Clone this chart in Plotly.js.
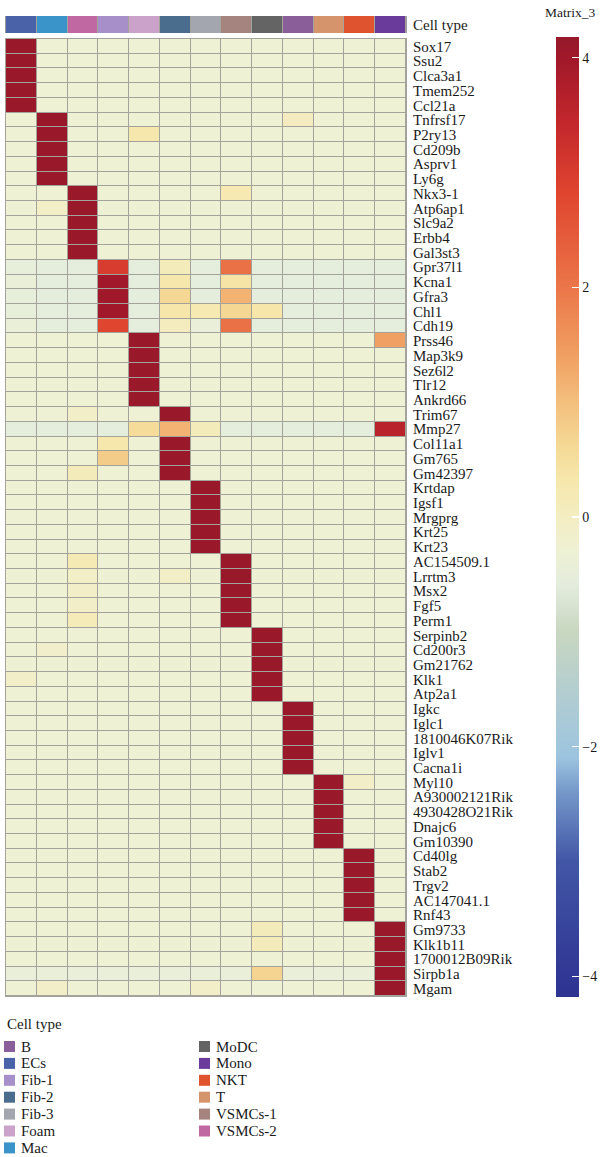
<!DOCTYPE html>
<html>
<head>
<meta charset="utf-8">
<script src="https://cdn.plot.ly/plotly-3.0.1.min.js"></script>
<style>
  html, body { margin: 0; padding: 0; background: #ffffff; }
  #chart { width: 600px; height: 1157px; }
</style>
</head>
<body>
<div id="chart"></div>
<script>
// Cell types in column order
const cellTypes = ['ECs', 'Mac', 'VSMCs-2', 'Fib-1', 'Foam', 'Fib-2', 'Fib-3',
                   'VSMCs-1', 'MoDC', 'B', 'T', 'NKT', 'Mono'];

// Marker genes, top to bottom
const genes = [
  'Sox17', 'Ssu2', 'Clca3a1', 'Tmem252', 'Ccl21a',
  'Tnfrsf17', 'P2ry13', 'Cd209b', 'Asprv1', 'Ly6g',
  'Nkx3-1', 'Atp6ap1', 'Slc9a2', 'Erbb4', 'Gal3st3',
  'Gpr37l1', 'Kcna1', 'Gfra3', 'Chl1', 'Cdh19',
  'Prss46', 'Map3k9', 'Sez6l2', 'Tlr12', 'Ankrd66',
  'Trim67', 'Mmp27', 'Col11a1', 'Gm765', 'Gm42397',
  'Krtdap', 'Igsf1', 'Mrgprg', 'Krt25', 'Krt23',
  'AC154509.1', 'Lrrtm3', 'Msx2', 'Fgf5', 'Perm1',
  'Serpinb2', 'Cd200r3', 'Gm21762', 'Klk1', 'Atp2a1',
  'Igkc', 'Iglc1', '1810046K07Rik', 'Iglv1', 'Cacna1i',
  'Myl10', 'A930002121Rik', '4930428O21Rik', 'Dnajc6', 'Gm10390',
  'Cd40lg', 'Stab2', 'Trgv2', 'AC147041.1', 'Rnf43',
  'Gm9733', 'Klk1b11', '1700012B09Rik', 'Sirpb1a', 'Mgam'
];

// Scaled expression (Matrix_3), one row per gene, columns follow cellTypes
const expression = [
  [ 4.1,-0.3,-0.3,-0.3,-0.3,-0.3,-0.3,-0.3,-0.3,-0.3,-0.3,-0.3,-0.3],
  [ 4.1,-0.3,-0.3,-0.3,-0.3,-0.3,-0.3,-0.3,-0.3,-0.3,-0.3,-0.3,-0.3],
  [ 4.1,-0.3,-0.3,-0.3,-0.3,-0.3,-0.3,-0.3,-0.3,-0.3,-0.3,-0.3,-0.3],
  [ 4.1,-0.3,-0.3,-0.3,-0.3,-0.3,-0.3,-0.3,-0.3,-0.3,-0.3,-0.3,-0.3],
  [ 4.1,-0.3,-0.3,-0.3,-0.3,-0.3,-0.3,-0.3,-0.3,-0.3,-0.3,-0.3,-0.3],
  [-0.3, 4.1,-0.3,-0.3,-0.3,-0.3,-0.3,-0.3,-0.3, 0.05,-0.3,-0.3,-0.3],
  [-0.3, 4.1,-0.3,-0.3, 0.3,-0.3,-0.3,-0.3,-0.3,-0.3,-0.3,-0.3,-0.3],
  [-0.3, 4.1,-0.3,-0.3,-0.3,-0.3,-0.3,-0.3,-0.3,-0.3,-0.3,-0.3,-0.3],
  [-0.3, 4.1,-0.3,-0.3,-0.3,-0.3,-0.3,-0.3,-0.3,-0.3,-0.3,-0.3,-0.3],
  [-0.3, 4.1,-0.3,-0.3,-0.3,-0.3,-0.3,-0.3,-0.3,-0.3,-0.3,-0.3,-0.3],
  [-0.3,-0.3, 4.1,-0.3,-0.3,-0.3,-0.3, 0.25,-0.3,-0.3,-0.3,-0.3,-0.3],
  [-0.3,-0.05, 4.1,-0.3,-0.3,-0.3,-0.3,-0.3,-0.3,-0.3,-0.3,-0.3,-0.3],
  [-0.3,-0.3, 4.1,-0.3,-0.3,-0.3,-0.3,-0.3,-0.3,-0.3,-0.3,-0.3,-0.3],
  [-0.3,-0.3, 4.1,-0.3,-0.3,-0.3,-0.3,-0.3,-0.3,-0.3,-0.3,-0.3,-0.3],
  [-0.3,-0.3, 4.1,-0.3,-0.3,-0.3,-0.3,-0.3,-0.3,-0.3,-0.3,-0.3,-0.3],
  [-0.5,-0.55,-0.55, 3.0,-0.55, 0.1,-0.55, 2.1,-0.55,-0.55,-0.55,-0.55,-0.55],
  [-0.4,-0.55,-0.55, 4.0,-0.55, 0.3,-0.55, 0.4,-0.55,-0.55,-0.55,-0.55,-0.55],
  [-0.5,-0.55,-0.55, 4.0,-0.55, 0.65,-0.55, 1.15,-0.55,-0.55,-0.55,-0.55,-0.55],
  [-0.5,-0.55,-0.55, 4.0,-0.55, 0.35, 0.25, 0.65, 0.35,-0.55,-0.55,-0.55,-0.55],
  [-0.4,-0.55,-0.55, 2.8,-0.55, 0.05,-0.45, 2.1,-0.55,-0.55,-0.55,-0.55,-0.55],
  [-0.3,-0.3,-0.3,-0.3, 4.1,-0.3,-0.3,-0.3,-0.3,-0.3,-0.3,-0.3, 1.4],
  [-0.3,-0.3,-0.3,-0.3, 4.1,-0.3,-0.3,-0.3,-0.3,-0.3,-0.3,-0.3,-0.3],
  [-0.3,-0.3,-0.3,-0.3, 4.1,-0.3,-0.3,-0.3,-0.3,-0.3,-0.3,-0.3,-0.3],
  [-0.3,-0.3,-0.3,-0.3, 4.1,-0.3,-0.3,-0.3,-0.3,-0.3,-0.3,-0.3,-0.3],
  [-0.3,-0.3,-0.3,-0.3, 4.1,-0.3,-0.3,-0.3,-0.3,-0.3,-0.3,-0.3,-0.3],
  [-0.3,-0.3,-0.1,-0.3,-0.3, 4.1,-0.3,-0.3,-0.3,-0.3,-0.3,-0.3,-0.3],
  [-0.55,-0.55,-0.55,-0.55, 0.55, 1.15, 0.1,-0.55,-0.55,-0.55,-0.55,-0.55, 3.6],
  [-0.3,-0.3,-0.3, 0.3,-0.3, 4.1,-0.3,-0.3,-0.3,-0.3,-0.3,-0.3,-0.3],
  [-0.3,-0.3,-0.3, 0.8,-0.3, 4.1,-0.3,-0.3,-0.3,-0.3,-0.3,-0.3,-0.3],
  [-0.3,-0.3, 0.1,-0.3,-0.3, 4.1,-0.3,-0.3,-0.3,-0.3,-0.3,-0.3,-0.3],
  [-0.3,-0.3,-0.3,-0.3,-0.3,-0.3, 4.1,-0.3,-0.3,-0.3,-0.3,-0.3,-0.3],
  [-0.3,-0.3,-0.3,-0.3,-0.3,-0.3, 4.1,-0.3,-0.3,-0.3,-0.3,-0.3,-0.3],
  [-0.3,-0.3,-0.3,-0.3,-0.3,-0.3, 4.1,-0.3,-0.3,-0.3,-0.3,-0.3,-0.3],
  [-0.3,-0.3,-0.3,-0.3,-0.3,-0.3, 4.1,-0.3,-0.3,-0.3,-0.3,-0.3,-0.3],
  [-0.3,-0.3,-0.3,-0.3,-0.3,-0.3, 4.1,-0.3,-0.3,-0.3,-0.3,-0.3,-0.3],
  [-0.3,-0.3, 0.2,-0.3,-0.3,-0.3,-0.3, 4.1,-0.3,-0.3,-0.3,-0.3,-0.3],
  [-0.3,-0.3,-0.05,-0.3,-0.3,-0.05,-0.3, 4.1,-0.3,-0.3,-0.3,-0.3,-0.3],
  [-0.3,-0.3,-0.1,-0.3,-0.3,-0.3,-0.3, 4.1,-0.3,-0.3,-0.3,-0.3,-0.3],
  [-0.3,-0.3,-0.1,-0.3,-0.3,-0.3,-0.3, 4.1,-0.3,-0.3,-0.3,-0.3,-0.3],
  [-0.3,-0.3, 0.15,-0.3,-0.3,-0.3,-0.3, 4.1,-0.3,-0.3,-0.3,-0.3,-0.3],
  [-0.3,-0.3,-0.3,-0.3,-0.3,-0.3,-0.3,-0.3, 4.1,-0.3,-0.3,-0.3,-0.3],
  [-0.3,-0.15,-0.3,-0.3,-0.3,-0.3,-0.3,-0.3, 4.1,-0.3,-0.3,-0.3,-0.3],
  [-0.3,-0.3,-0.3,-0.3,-0.3,-0.3,-0.3,-0.3, 4.1,-0.3,-0.3,-0.3,-0.3],
  [-0.1,-0.3,-0.3,-0.3,-0.3,-0.3,-0.3,-0.3, 4.1,-0.3,-0.3,-0.3,-0.3],
  [-0.3,-0.3,-0.3,-0.3,-0.3,-0.3,-0.3,-0.3, 4.1,-0.3,-0.3,-0.3,-0.3],
  [-0.3,-0.3,-0.3,-0.3,-0.3,-0.3,-0.3,-0.3,-0.3, 4.1,-0.3,-0.3,-0.3],
  [-0.3,-0.3,-0.3,-0.3,-0.3,-0.3,-0.3,-0.3,-0.3, 4.1,-0.3,-0.3,-0.3],
  [-0.3,-0.3,-0.3,-0.3,-0.3,-0.3,-0.3,-0.3,-0.3, 4.1,-0.3,-0.3,-0.3],
  [-0.3,-0.3,-0.3,-0.3,-0.3,-0.3,-0.3,-0.3,-0.3, 4.1,-0.3,-0.3,-0.3],
  [-0.3,-0.3,-0.3,-0.3,-0.3,-0.3,-0.3,-0.3,-0.3, 4.1,-0.3,-0.3,-0.3],
  [-0.3,-0.3,-0.3,-0.3,-0.3,-0.3,-0.3,-0.3,-0.3,-0.3, 4.1,-0.1,-0.3],
  [-0.3,-0.3,-0.3,-0.3,-0.3,-0.3,-0.3,-0.3,-0.3,-0.3, 4.1,-0.3,-0.3],
  [-0.3,-0.3,-0.3,-0.3,-0.3,-0.3,-0.3,-0.3,-0.3,-0.3, 4.1,-0.3,-0.3],
  [-0.3,-0.3,-0.3,-0.3,-0.3,-0.3,-0.3,-0.3,-0.3,-0.3, 4.1,-0.3,-0.3],
  [-0.3,-0.3,-0.3,-0.3,-0.3,-0.3,-0.3,-0.3,-0.3,-0.3, 4.1,-0.3,-0.3],
  [-0.3,-0.3,-0.3,-0.3,-0.3,-0.3,-0.3,-0.3,-0.3,-0.3,-0.3, 4.1,-0.3],
  [-0.3,-0.3,-0.3,-0.3,-0.3,-0.3,-0.3,-0.3,-0.3,-0.3,-0.3, 4.1,-0.3],
  [-0.3,-0.3,-0.3,-0.3,-0.3,-0.3,-0.3,-0.3,-0.3,-0.3,-0.3, 4.1,-0.3],
  [-0.3,-0.3,-0.3,-0.3,-0.3,-0.3,-0.3,-0.3,-0.3,-0.3,-0.3, 4.1,-0.3],
  [-0.3,-0.3,-0.3,-0.3,-0.3,-0.3,-0.3,-0.3,-0.3,-0.3,-0.3, 4.1,-0.3],
  [-0.3,-0.3,-0.3,-0.3,-0.3,-0.3,-0.3,-0.3, 0.1,-0.3,-0.3,-0.3, 4.1],
  [-0.3,-0.3,-0.3,-0.3,-0.3,-0.3,-0.3,-0.3, 0.1,-0.3,-0.3,-0.3, 4.1],
  [-0.3,-0.3,-0.3,-0.3,-0.3,-0.3,-0.3,-0.3,-0.3,-0.3,-0.3,-0.3, 4.1],
  [-0.45,-0.45,-0.45,-0.45,-0.45,-0.45,-0.45,-0.45, 0.7,-0.45,-0.45,-0.45, 4.1],
  [-0.3,-0.1,-0.3,-0.3,-0.3,-0.3,-0.1,-0.3,-0.3,-0.3,-0.3,-0.3, 4.1]
];

// Cell type legend, alphabetical, filled column by column
const legendOrder = ['B', 'ECs', 'Fib-1', 'Fib-2', 'Fib-3', 'Foam', 'Mac',
                     'MoDC', 'Mono', 'NKT', 'T', 'VSMCs-1', 'VSMCs-2'];

// Colour for each cell type
const cellColors = {
  'ECs': '#4a63a8', 'Mac': '#3a93c9', 'VSMCs-2': '#c068a2', 'Fib-1': '#a78fca',
  'Foam': '#caa2ca', 'Fib-2': '#4b6d8d', 'Fib-3': '#a3a6ae', 'VSMCs-1': '#a5837e',
  'MoDC': '#646464', 'B': '#8a5e98', 'T': '#d6946c', 'NKT': '#e0532f', 'Mono': '#6a3b9a'
};

const W = 600, H = 1157;
const px = v => v / W;          // pixel x -> paper
const py = v => 1 - v / H;      // pixel y -> paper
const SERIF = '"Liberation Serif", "Times New Roman", serif';
const GRID = '#a3a39b';
const INK = '#1a1a1a';

const zMin = -4.18, zMax = 4.18;
// Diverging blue - cream - red scale, stops given in data units
const scaleStops = [
  [-4.18, '#2c3490'], [-4.0, '#303794'], [-3.0, '#4256a6'], [-2.4, '#7497c9'],
  [-2.1, '#9cc4df'], [-1.6, '#b0ccd2'], [-1.0, '#c8d7c0'], [-0.6, '#e3ecdd'],
  [-0.3, '#eef1d4'], [0.0, '#f3edc2'], [0.3, '#f6e8ad'], [0.6, '#f5da97'],
  [1.0, '#f3bf7d'], [1.4, '#f0a062'], [2.0, '#eb7649'], [2.8, '#e0462f'],
  [3.4, '#c5282c'], [4.0, '#a0182a'], [4.18, '#94192b']
];
const colorscale = scaleStops.map(([v, c]) => [(v - zMin) / (zMax - zMin), c]);

const nTypes = cellTypes.length;

const heatTrace = {
  type: 'heatmap',
  x: cellTypes,
  y: genes,
  z: expression,
  zmin: zMin, zmax: zMax,
  colorscale: colorscale,
  xgap: 1, ygap: 1,
  xaxis: 'x', yaxis: 'y',
  colorbar: {
    x: px(556), xanchor: 'left', xref: 'paper',
    y: py(517), yanchor: 'middle', yref: 'paper',
    len: 960 / H, lenmode: 'fraction',
    thickness: 23, thicknessmode: 'pixels',
    xpad: 0, ypad: 0,
    outlinewidth: 0,
    tickvals: [-4, -2, 0, 2, 4],
    ticks: 'inside', ticklen: 7, tickcolor: '#ffffff', tickwidth: 1.5,
    tickfont: { family: SERIF, size: 14, color: INK }
  }
};

// Cell type annotation strip above the heatmap
const stripTrace = {
  type: 'heatmap',
  x: cellTypes,
  y: ['Cell type'],
  z: [cellTypes.map((_, i) => i)],
  zmin: 0, zmax: nTypes - 1,
  colorscale: cellTypes.map((c, i) => [i / (nTypes - 1), cellColors[c]]),
  showscale: false,
  xgap: 1,
  xaxis: 'x', yaxis: 'y2'
};

// Colour bar heading
const annotations = [{
  text: 'Matrix_3', x: px(597), y: py(12), xref: 'paper', yref: 'paper',
  xanchor: 'right', yanchor: 'middle', showarrow: false,
  font: { family: SERIF, size: 13.5, color: INK }
}];

// Legend below the heatmap: two columns of colour keys with labels
const legendShapes = [];
annotations.push({
  text: 'Cell type', x: px(5), y: py(1024), xref: 'paper', yref: 'paper',
  xanchor: 'left', yanchor: 'middle', showarrow: false,
  font: { family: SERIF, size: 15, color: INK }
});
legendOrder.forEach((name, i) => {
  const col = Math.floor(i / 7), row = i % 7;
  const cx = 9.5 + col * 195, cy = 1046.5 + row * 16.9;
  legendShapes.push({
    type: 'rect', xref: 'paper', yref: 'paper',
    x0: px(cx - 5.5), x1: px(cx + 5.5), y0: py(cy + 5.5), y1: py(cy - 5.5),
    fillcolor: cellColors[name], line: { width: 0 }
  });
  annotations.push({
    text: name, x: px(cx + 9), y: py(cy), xref: 'paper', yref: 'paper',
    xanchor: 'left', yanchor: 'middle', showarrow: false,
    font: { family: SERIF, size: 15, color: INK }
  });
});

const layout = {
  width: W, height: H,
  margin: { l: 0, r: 0, t: 0, b: 0, autoexpand: false },
  paper_bgcolor: '#ffffff',
  plot_bgcolor: GRID,
  showlegend: false,
  font: { family: SERIF, size: 14, color: INK },
  xaxis: {
    domain: [px(6), px(406)], anchor: 'y',
    showticklabels: false, ticks: '', showgrid: false, zeroline: false,
    showline: true, mirror: true, linecolor: GRID, linewidth: 1
  },
  yaxis: {
    domain: [py(996), py(39)], anchor: 'x',
    side: 'right', type: 'category', autorange: 'reversed',
    tickmode: 'array', tickvals: genes, ticktext: genes,
    ticks: '', showgrid: false, zeroline: false,
    showline: true, mirror: true, linecolor: GRID, linewidth: 1,
    ticklabelstandoff: 3,
    tickfont: { family: SERIF, size: 15, color: INK }
  },
  yaxis2: {
    domain: [py(33), py(16)], anchor: 'x',
    side: 'right', type: 'category',
    ticks: '', showgrid: false, zeroline: false,
    showline: true, mirror: true, linecolor: '#9a9a9a', linewidth: 1,
    ticklabelstandoff: 3,
    tickfont: { family: SERIF, size: 15, color: INK }
  },
  shapes: legendShapes,
  annotations: annotations
};

Plotly.newPlot('chart', [heatTrace, stripTrace], layout, { displayModeBar: false, staticPlot: true });
</script>
</body>
</html>
